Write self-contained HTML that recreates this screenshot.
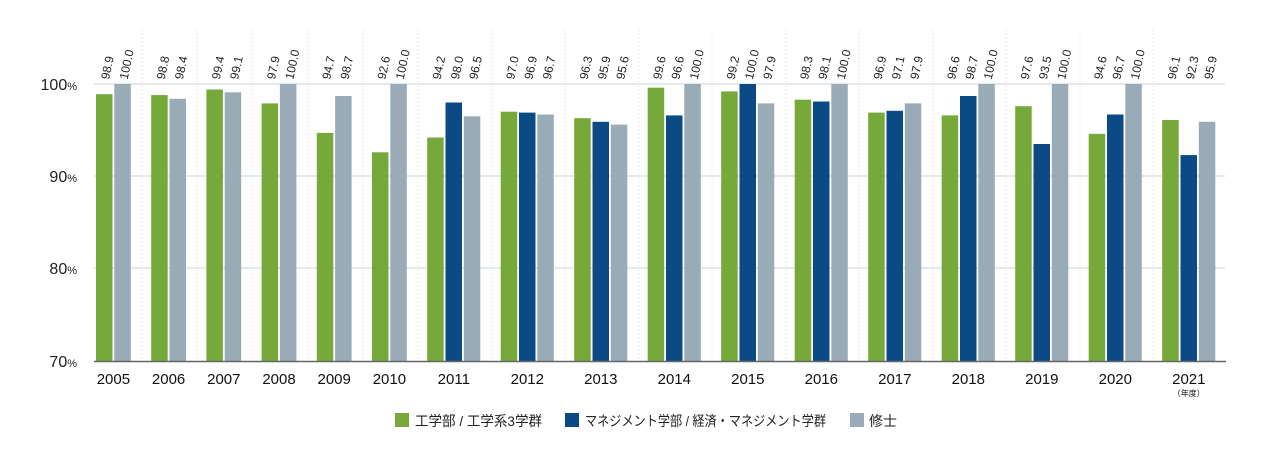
<!DOCTYPE html>
<html><head><meta charset="utf-8"><style>body{margin:0;background:#fff}svg{display:block}</style></head><body>
<svg width="1280" height="467" viewBox="0 0 1280 467" xmlns="http://www.w3.org/2000/svg" font-family="Liberation Sans, Noto Sans CJK JP, sans-serif">
<g stroke="#c9d3dc" stroke-width="1">
<line x1="94" y1="84" x2="1225" y2="84"/><line x1="94" y1="176" x2="1225" y2="176"/><line x1="94" y1="268" x2="1225" y2="268"/>
</g>
<g stroke="#d6dbe0" stroke-width="1" stroke-dasharray="1,3">
<line x1="142" y1="30" x2="142" y2="361"/><line x1="197" y1="30" x2="197" y2="361"/><line x1="252" y1="30" x2="252" y2="361"/><line x1="308" y1="30" x2="308" y2="361"/><line x1="363" y1="30" x2="363" y2="361"/><line x1="418" y1="30" x2="418" y2="361"/><line x1="492" y1="30" x2="492" y2="361"/><line x1="565" y1="30" x2="565" y2="361"/><line x1="639" y1="30" x2="639" y2="361"/><line x1="712" y1="30" x2="712" y2="361"/><line x1="786" y1="30" x2="786" y2="361"/><line x1="859" y1="30" x2="859" y2="361"/><line x1="933" y1="30" x2="933" y2="361"/><line x1="1006" y1="30" x2="1006" y2="361"/><line x1="1080" y1="30" x2="1080" y2="361"/><line x1="1153" y1="30" x2="1153" y2="361"/>
</g>
<g font-size="16" fill="#222" text-anchor="end">
<text x="77" y="90">100<tspan font-size="11">%</tspan></text>
<text x="77" y="182">90<tspan font-size="11">%</tspan></text>
<text x="77" y="274">80<tspan font-size="11">%</tspan></text>
<text x="77" y="367">70<tspan font-size="11">%</tspan></text>
</g>
<g fill="#76a83a">
<rect x="96" y="94.2" width="16.5" height="266.8"/>
<rect x="151.2" y="95.1" width="16.5" height="265.9"/>
<rect x="206.4" y="89.5" width="16.5" height="271.5"/>
<rect x="261.6" y="103.4" width="16.5" height="257.6"/>
<rect x="316.8" y="132.9" width="16.5" height="228.1"/>
<rect x="372" y="152.3" width="16.5" height="208.7"/>
<rect x="427.2" y="137.5" width="16.5" height="223.5"/>
<rect x="500.7" y="111.7" width="16.5" height="249.3"/>
<rect x="574.2" y="118.2" width="16.5" height="242.8"/>
<rect x="647.7" y="87.7" width="16.5" height="273.3"/>
<rect x="721.2" y="91.4" width="16.5" height="269.6"/>
<rect x="794.7" y="99.7" width="16.5" height="261.3"/>
<rect x="868.2" y="112.6" width="16.5" height="248.4"/>
<rect x="941.7" y="115.4" width="16.5" height="245.6"/>
<rect x="1015.2" y="106.2" width="16.5" height="254.8"/>
<rect x="1088.7" y="133.8" width="16.5" height="227.2"/>
<rect x="1162.2" y="120" width="16.5" height="241"/>
</g>
<g fill="#0b4a85">
<rect x="445.5" y="102.5" width="16.5" height="258.5"/>
<rect x="519" y="112.6" width="16.5" height="248.4"/>
<rect x="592.5" y="121.8" width="16.5" height="239.2"/>
<rect x="666" y="115.4" width="16.5" height="245.6"/>
<rect x="739.5" y="84" width="16.5" height="277"/>
<rect x="813" y="101.5" width="16.5" height="259.5"/>
<rect x="886.5" y="110.8" width="16.5" height="250.2"/>
<rect x="960" y="96" width="16.5" height="265"/>
<rect x="1033.5" y="144" width="16.5" height="217"/>
<rect x="1107" y="114.5" width="16.5" height="246.5"/>
<rect x="1180.5" y="155.1" width="16.5" height="205.9"/>
</g>
<g fill="#9aabb8">
<rect x="114.3" y="84" width="16.5" height="277"/>
<rect x="169.5" y="98.8" width="16.5" height="262.2"/>
<rect x="224.7" y="92.3" width="16.5" height="268.7"/>
<rect x="279.9" y="84" width="16.5" height="277"/>
<rect x="335.1" y="96" width="16.5" height="265"/>
<rect x="390.3" y="84" width="16.5" height="277"/>
<rect x="463.8" y="116.3" width="16.5" height="244.7"/>
<rect x="537.3" y="114.5" width="16.5" height="246.5"/>
<rect x="610.8" y="124.6" width="16.5" height="236.4"/>
<rect x="684.3" y="84" width="16.5" height="277"/>
<rect x="757.8" y="103.4" width="16.5" height="257.6"/>
<rect x="831.3" y="84" width="16.5" height="277"/>
<rect x="904.8" y="103.4" width="16.5" height="257.6"/>
<rect x="978.3" y="84" width="16.5" height="277"/>
<rect x="1051.8" y="84" width="16.5" height="277"/>
<rect x="1125.3" y="84" width="16.5" height="277"/>
<rect x="1198.8" y="121.8" width="16.5" height="239.2"/>
</g>
<line x1="94" y1="361.5" x2="1226" y2="361.5" stroke="#666" stroke-width="1.5"/>
<g font-size="12" fill="#222">
<text transform="translate(109,80) rotate(-78)">98.9</text>
<text transform="translate(127.5,80) rotate(-78)">100.0</text>
<text transform="translate(164.5,80) rotate(-78)">98.8</text>
<text transform="translate(182.8,80) rotate(-78)">98.4</text>
<text transform="translate(219.7,80) rotate(-78)">99.4</text>
<text transform="translate(238,80) rotate(-78)">99.1</text>
<text transform="translate(274.9,80) rotate(-78)">97.9</text>
<text transform="translate(293.2,80) rotate(-78)">100.0</text>
<text transform="translate(330.1,80) rotate(-78)">94.7</text>
<text transform="translate(348.4,80) rotate(-78)">98.7</text>
<text transform="translate(385.3,80) rotate(-78)">92.6</text>
<text transform="translate(403.6,80) rotate(-78)">100.0</text>
<text transform="translate(440.5,80) rotate(-78)">94.2</text>
<text transform="translate(458.8,80) rotate(-78)">98.0</text>
<text transform="translate(477.1,80) rotate(-78)">96.5</text>
<text transform="translate(514,80) rotate(-78)">97.0</text>
<text transform="translate(532.3,80) rotate(-78)">96.9</text>
<text transform="translate(550.6,80) rotate(-78)">96.7</text>
<text transform="translate(587.5,80) rotate(-78)">96.3</text>
<text transform="translate(605.8,80) rotate(-78)">95.9</text>
<text transform="translate(624.1,80) rotate(-78)">95.6</text>
<text transform="translate(661,80) rotate(-78)">99.6</text>
<text transform="translate(679.3,80) rotate(-78)">96.6</text>
<text transform="translate(697.6,80) rotate(-78)">100.0</text>
<text transform="translate(734.5,80) rotate(-78)">99.2</text>
<text transform="translate(752.8,80) rotate(-78)">100.0</text>
<text transform="translate(771.1,80) rotate(-78)">97.9</text>
<text transform="translate(808,80) rotate(-78)">98.3</text>
<text transform="translate(826.3,80) rotate(-78)">98.1</text>
<text transform="translate(844.6,80) rotate(-78)">100.0</text>
<text transform="translate(881.5,80) rotate(-78)">96.9</text>
<text transform="translate(899.8,80) rotate(-78)">97.1</text>
<text transform="translate(918.1,80) rotate(-78)">97.9</text>
<text transform="translate(955,80) rotate(-78)">96.6</text>
<text transform="translate(973.3,80) rotate(-78)">98.7</text>
<text transform="translate(991.6,80) rotate(-78)">100.0</text>
<text transform="translate(1028.5,80) rotate(-78)">97.6</text>
<text transform="translate(1046.8,80) rotate(-78)">93.5</text>
<text transform="translate(1065.1,80) rotate(-78)">100.0</text>
<text transform="translate(1102,80) rotate(-78)">94.6</text>
<text transform="translate(1120.3,80) rotate(-78)">96.7</text>
<text transform="translate(1138.6,80) rotate(-78)">100.0</text>
<text transform="translate(1175.5,80) rotate(-78)">96.1</text>
<text transform="translate(1193.8,80) rotate(-78)">92.3</text>
<text transform="translate(1212.1,80) rotate(-78)">95.9</text>
</g>
<g font-size="15" fill="#111" text-anchor="middle">
<text x="113.4" y="384">2005</text><text x="168.6" y="384">2006</text><text x="223.8" y="384">2007</text><text x="279" y="384">2008</text><text x="334.2" y="384">2009</text><text x="389.4" y="384">2010</text>
<text x="453.8" y="384">2011</text><text x="527.3" y="384">2012</text><text x="600.8" y="384">2013</text><text x="674.3" y="384">2014</text><text x="747.8" y="384">2015</text><text x="821.3" y="384">2016</text><text x="894.8" y="384">2017</text><text x="968.3" y="384">2018</text><text x="1041.8" y="384">2019</text><text x="1115.3" y="384">2020</text><text x="1188.8" y="384">2021</text>
<text x="1188.8" y="396" font-size="8">（年度）</text>
</g>
<rect x="395" y="413" width="14" height="14" fill="#76a83a"/>
<text x="415" y="426" font-size="14" fill="#222" textLength="127" lengthAdjust="spacingAndGlyphs">工学部 / 工学系3学群</text>
<rect x="565" y="413" width="14" height="14" fill="#0b4a85"/>
<text x="585" y="426" font-size="14" fill="#222" textLength="241" lengthAdjust="spacingAndGlyphs">マネジメント学部 / 経済・マネジメント学群</text>
<rect x="850" y="413" width="14" height="14" fill="#9aabb8"/>
<text x="869" y="426" font-size="14" fill="#222">修士</text>
</svg>
</body></html>
